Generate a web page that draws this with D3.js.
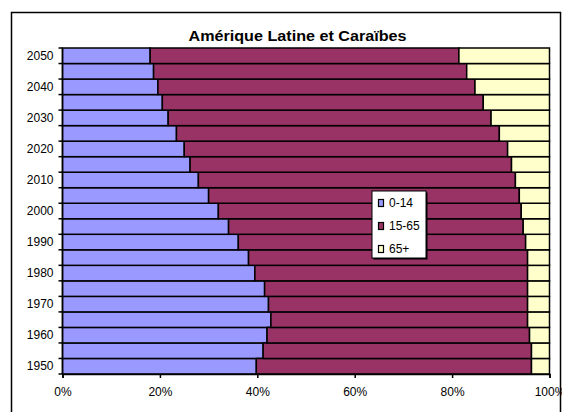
<!DOCTYPE html>
<html>
<head>
<meta charset="utf-8">
<script src="https://cdn.jsdelivr.net/npm/d3@7"></script>
<style>
  body { margin: 0; background: #fff; }
  svg text { font-family: "Liberation Sans", Arial, sans-serif; }
</style>
</head>
<body>
<svg id="chart" width="562" height="412"></svg>
<script>
// population share by age group, Latin America & Caribbean (percent)
const years = [1950, 1955, 1960, 1965, 1970, 1975, 1980, 1985, 1990, 1995, 2000,
               2005, 2010, 2015, 2020, 2025, 2030, 2035, 2040, 2045, 2050];
const age0_14  = [39.8, 41.2, 42.0, 42.8, 42.3, 41.5, 39.5, 38.2, 36.1, 34.1, 32.0,
                  30.0, 27.9, 26.2, 25.0, 23.4, 21.7, 20.5, 19.6, 18.7, 18.0];
const age15_65 = [56.5, 55.1, 53.9, 52.7, 53.2, 54.0, 56.0, 57.3, 59.0, 60.5, 62.2,
                  63.8, 65.1, 66.0, 66.4, 66.3, 66.3, 65.9, 65.1, 64.3, 63.4];
const age65    = [3.7, 3.7, 4.1, 4.5, 4.5, 4.5, 4.5, 4.5, 4.9, 5.4, 5.8,
                  6.2, 7.0, 7.8, 8.6, 10.3, 12.0, 13.6, 15.3, 17.0, 18.6];
const seriesNames = ["0-14", "15-65", "65+"];
const yearLabels = [1950, 1960, 1970, 1980, 1990, 2000, 2010, 2020, 2030, 2040, 2050];
const xTicks = [0, 0.2, 0.4, 0.6, 0.8, 1];

const colors = ["#9999ff", "#993366", "#ffffcc"];

const svg = d3.select("#chart");
const margin = { top: 48, right: 12.5, bottom: 38, left: 62.5 };
const width = 562, height = 412;

// outer frame (Excel chart area)
svg.append("rect")
  .attr("x", 11.5).attr("y", 12.5)
  .attr("width", 549).attr("height", 420)
  .attr("fill", "white").attr("stroke", "black").attr("stroke-width", 1.5);

const table = years.map((y, i) => ({
  year: y, "0-14": age0_14[i], "15-65": age15_65[i], "65+": age65[i]
}));

const stacked = d3.stack()
  .keys(seriesNames)
  .offset(d3.stackOffsetExpand)(table);

const x = d3.scaleLinear()
  .domain([0, 1])
  .range([margin.left, width - margin.right]);

const y = d3.scaleBand()
  .domain(years.slice().reverse())
  .range([margin.top, height - margin.bottom])
  .padding(0);

// bars
svg.append("g")
  .selectAll("g")
  .data(stacked)
  .join("g")
  .attr("fill", (d, i) => colors[i])
  .selectAll("rect")
  .data(d => d)
  .join("rect")
  .attr("x", d => x(d[0]))
  .attr("y", d => y(d.data.year))
  .attr("width", d => x(d[1]) - x(d[0]))
  .attr("height", y.bandwidth())
  .attr("stroke", "black")
  .attr("stroke-width", 1.5);

// y axis: ticks between categories, labels every 10 years
const yAxis = svg.append("g");
yAxis.append("line")
  .attr("x1", margin.left).attr("x2", margin.left)
  .attr("y1", margin.top).attr("y2", height - margin.bottom)
  .attr("stroke", "black").attr("stroke-width", 1.5);
yAxis.selectAll(".tick-mark")
  .data(years.concat([null]))
  .join("line")
  .attr("class", "tick-mark")
  .attr("x1", margin.left - 4).attr("x2", margin.left)
  .attr("y1", d => d === null ? height - margin.bottom : y(d))
  .attr("y2", d => d === null ? height - margin.bottom : y(d))
  .attr("stroke", "black").attr("stroke-width", 1.5);
yAxis.selectAll(".ylab")
  .data(yearLabels)
  .join("text")
  .attr("class", "ylab")
  .attr("x", margin.left - 9)
  .attr("y", d => y(d) + y.bandwidth() / 2)
  .attr("dy", "0.35em")
  .attr("text-anchor", "end")
  .attr("font-size", 12)
  .text(d => d);

// x axis
svg.append("g")
  .attr("transform", `translate(0,${height - margin.bottom})`)
  .call(d3.axisBottom(x).tickValues(xTicks).tickFormat(d3.format(".0%")).tickSize(4).tickPadding(9))
  .call(g => g.select(".domain").attr("stroke-width", 1.5))
  .call(g => g.selectAll(".tick line").attr("stroke-width", 1.5))
  .call(g => g.selectAll(".tick text")
    .attr("font-size", 12)
    .attr("font-family", "Liberation Sans, Arial, sans-serif")
    .attr("fill", "black"));

// title
svg.append("text")
  .attr("x", 297.5).attr("y", 40.5)
  .attr("text-anchor", "middle")
  .attr("font-size", 15)
  .attr("font-weight", "bold")
  .attr("textLength", 218)
  .attr("lengthAdjust", "spacingAndGlyphs")
  .text("Amérique Latine et Caraïbes");

// legend
const legend = svg.append("g").attr("transform", "translate(372,191)");
legend.append("rect")
  .attr("x", 1.5).attr("y", 1.5)
  .attr("width", 54).attr("height", 67)
  .attr("fill", "black");
legend.append("rect")
  .attr("width", 54).attr("height", 67)
  .attr("fill", "white").attr("stroke", "black").attr("stroke-width", 1);
const item = legend.selectAll(".item")
  .data(seriesNames)
  .join("g")
  .attr("class", "item")
  .attr("transform", (d, i) => `translate(0,${12 + i * 23})`);
item.append("rect")
  .attr("x", 6.5).attr("y", -3.5)
  .attr("width", 5).attr("height", 7)
  .attr("fill", (d, i) => colors[i])
  .attr("stroke", "black").attr("stroke-width", 1.2);
item.append("text")
  .attr("x", 17).attr("y", 0)
  .attr("dy", "0.35em")
  .attr("font-size", 12)
  .text(d => d);
</script>
</body>
</html>
